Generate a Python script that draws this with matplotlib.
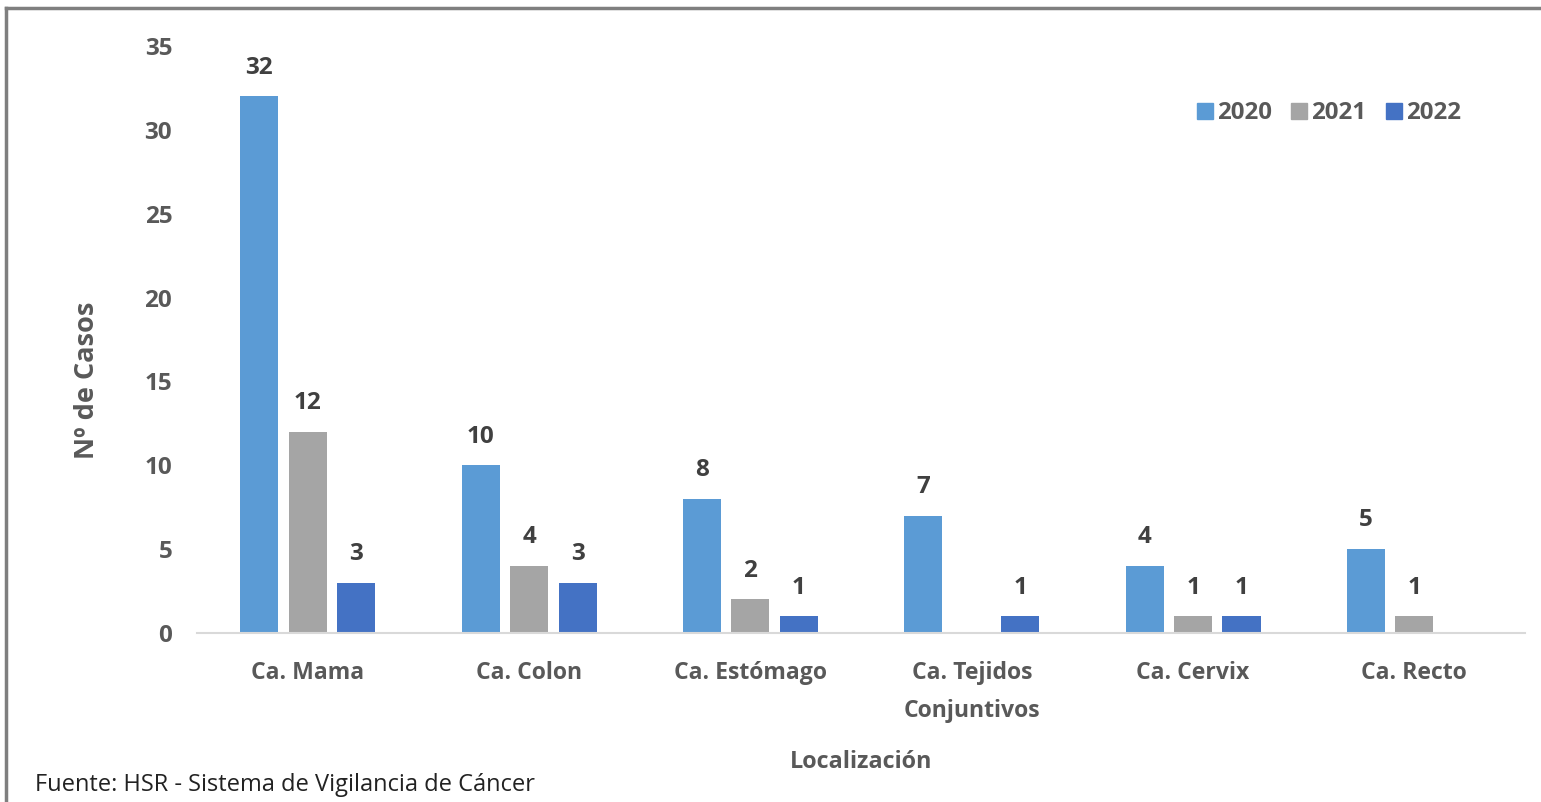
import numpy as np
import matplotlib.pyplot as plt
from matplotlib.lines import Line2D

categorias = ['Ca. Mama', 'Ca. Colon', 'Ca. Estómago', 'Ca. Tejidos\nConjuntivos', 'Ca. Cervix', 'Ca. Recto']
anios = ['2020', '2021', '2022']
casos_2020 = [32, 10, 8, 7, 4, 5]
casos_2021 = [12, 4, 2, 0, 1, 1]
casos_2022 = [3, 3, 1, 1, 1, 0]
colores = ['#5B9BD5', '#A5A5A5', '#4472C4']

plt.rcParams['font.family'] = ['Open Sans', 'DejaVu Sans']
gris = '#595959'

fig = plt.figure(figsize=(15.41, 8.02), dpi=100)
ax = fig.add_axes([0.128, 0.2107, 0.8616, 0.7319])

x = np.arange(len(categorias))
ancho = 0.172
paso = 0.219
series = [casos_2020, casos_2021, casos_2022]
for i, (vals, col) in enumerate(zip(series, colores)):
    pos = x + (i - 1) * paso
    ax.bar(pos, vals, width=ancho, color=col, label=anios[i])
    for xb, v in zip(pos, vals):
        if v > 0:
            ax.annotate(str(v), (xb, v), xytext=(0, 12), textcoords='offset points',
                        ha='center', va='bottom', fontsize=17.5, fontweight='bold', color='#404040')

ax.set_xlim(-0.5, len(categorias) - 0.5)
ax.set_ylim(0, 35)
ax.set_yticks(range(0, 36, 5))
ax.set_xticks(x)
ax.set_xticklabels(categorias, fontsize=16.6, fontweight='bold', color=gris, linespacing=1.8)
ax.tick_params(axis='y', labelsize=17.5, colors=gris, length=0, pad=18)
ax.tick_params(axis='x', length=0, pad=20)
for lab in ax.get_yticklabels():
    lab.set_fontweight('bold')
for s in ['top', 'right', 'left']:
    ax.spines[s].set_visible(False)
ax.spines['bottom'].set_color('#D9D9D9')
ax.spines['bottom'].set_linewidth(1.5)

fig.text(0.0565, 0.526, 'Nº de Casos', rotation=90, ha='center', va='center',
         fontsize=19.5, fontweight='bold', color=gris)
fig.text(0.5585, 0.05, 'Localización', ha='center', va='center', fontsize=16.8, fontweight='bold', color=gris)
fig.text(0.023, 0.021, 'Fuente: HSR - Sistema de Vigilancia de Cáncer', ha='left', va='center',
         fontsize=17, color='#222222')

handles = [Line2D([], [], marker='s', linestyle='', markersize=11.5, color=c) for c in colores]
leg = ax.legend(handles, anios, loc='center right', bbox_to_anchor=(0.968, 0.886), ncol=3, frameon=False,
                fontsize=17.3, handletextpad=-0.1, columnspacing=0.55, handlelength=1.2)
for t in leg.get_texts():
    t.set_color(gris)
    t.set_fontweight('bold')

# marco de la figura (arriba e izquierda)
fig.add_artist(Line2D([0.004, 1.0], [0.99, 0.99], color='#7F7F7F', linewidth=2.5, transform=fig.transFigure))
fig.add_artist(Line2D([0.004, 0.004], [0.0, 0.99], color='#7F7F7F', linewidth=2.5, transform=fig.transFigure))

fig.savefig('out.png', dpi=100)
